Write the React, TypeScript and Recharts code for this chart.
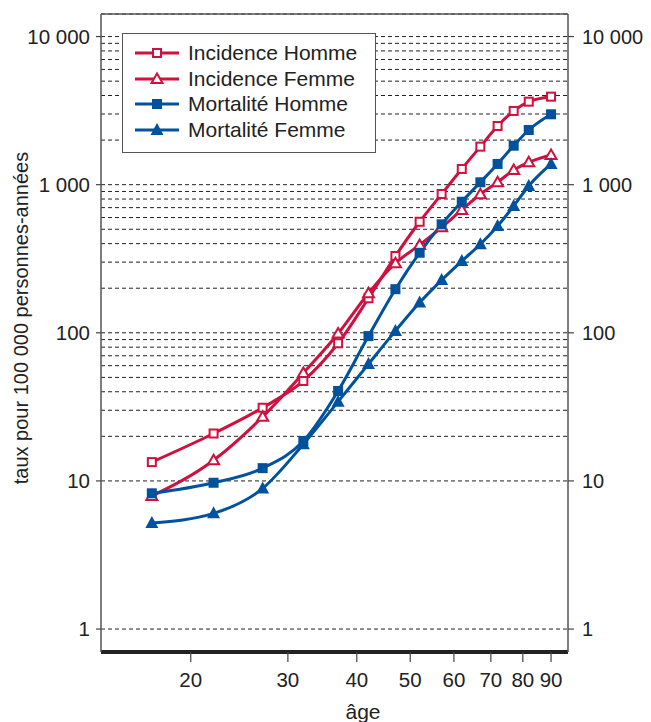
import React from 'react';
import { LineChart, Line, XAxis, YAxis, CartesianGrid, Legend, Customized, ReferenceLine } from 'recharts';

// ---- data ----
const ages = [17, 22, 27, 32, 37, 42, 47, 52, 57, 62, 67, 72, 77, 82, 90];
const incidenceHomme = [13.4, 20.9, 31.2, 47.3, 85, 171, 330, 562, 865, 1277, 1806, 2490, 3146, 3634, 3930];
const incidenceFemme = [7.9, 13.8, 27.1, 53.5, 99, 185, 295, 392, 515, 675, 861, 1038, 1257, 1416, 1587];
const mortaliteHomme = [8.25, 9.72, 12.2, 18.6, 40.5, 95, 197, 347, 540, 767, 1038, 1380, 1833, 2340, 2987];
const mortaliteFemme = [5.2, 6.04, 8.9, 17.7, 34.3, 61.5, 103, 160, 227, 305, 396, 526, 718, 980, 1380];

const seriesNames = ['Incidence Homme', 'Incidence Femme', 'Mortalité Homme', 'Mortalité Femme'];
const xTicks = [20, 30, 40, 50, 60, 70, 80, 90];
const yMajorTicks = [1, 10, 100, 1000, 10000];
const yMajorLabels = ['1', '10', '100', '1 000', '10 000'];
const yGridTicks = [1, 10, 20, 30, 40, 50, 60, 70, 80, 90, 100, 200, 300, 400, 500, 600, 700, 800, 900,
  1000, 2000, 3000, 4000, 5000, 6000, 7000, 8000, 9000, 10000];
const xDomain = [13.75, 96.6];
const yDomain = [0.7, 14200];
const xTitle = 'âge';
const yTitle = 'taux pour 100 000 personnes-années';

const rows = ages.map((a, i) => ({
  age: a,
  incH: incidenceHomme[i],
  incF: incidenceFemme[i],
  morH: mortaliteHomme[i],
  morF: mortaliteFemme[i],
}));

// ---- styles ----
const RED = '#D0103F';
const BLUE = '#00529E';
const FONT = '"Liberation Sans", Arial, Helvetica, sans-serif';
const TEXT = '#222';
const FS = 21;
const TICK_FS = 20.5;
const RIGHT_FS = 20;

type Shape = 'squareOpen' | 'triangleOpen' | 'squareFilled' | 'triangleFilled';

function Marker({ cx, cy, shape, color }: { cx: number; cy: number; shape: Shape; color: string }) {
  switch (shape) {
    case 'squareOpen':
      return <rect x={cx - 4} y={cy - 4} width={8} height={8} fill="#fff" stroke={color} strokeWidth={2} />;
    case 'squareFilled':
      return <rect x={cx - 5} y={cy - 5} width={10} height={10} fill={color} />;
    case 'triangleOpen':
      return (
        <polygon
          points={`${cx},${cy - 5.5} ${cx + 5.5},${cy + 4} ${cx - 5.5},${cy + 4}`}
          fill="#fff"
          stroke={color}
          strokeWidth={2}
          strokeLinejoin="miter"
        />
      );
    case 'triangleFilled':
    default:
      return <polygon points={`${cx},${cy - 7} ${cx + 6.5},${cy + 5} ${cx - 6.5},${cy + 5}`} fill={color} />;
  }
}

const makeDot = (shape: Shape, color: string, id: string) => (props: any) => {
  const { cx, cy, index } = props;
  if (cx == null || cy == null) return <g key={`${id}-${index}`} />;
  return (
    <g key={`${id}-${index}`}>
      <Marker cx={cx} cy={cy} shape={shape} color={color} />
    </g>
  );
};

const series: { key: string; name: string; color: string; shape: Shape }[] = [
  { key: 'incH', name: seriesNames[0], color: RED, shape: 'squareOpen' },
  { key: 'incF', name: seriesNames[1], color: RED, shape: 'triangleOpen' },
  { key: 'morH', name: seriesNames[2], color: BLUE, shape: 'squareFilled' },
  { key: 'morF', name: seriesNames[3], color: BLUE, shape: 'triangleFilled' },
];

const LeftTick = (props: any) => {
  const { x, y, payload } = props;
  const i = yMajorTicks.indexOf(payload.value);
  if (i < 0) return <g />;
  return (
    <g>
      <line x1={x + 6} x2={x + 11} y1={y} y2={y} stroke="#444" strokeWidth={1.2} />
      <text x={x} y={y} dy="0.35em" textAnchor="end" fill={TEXT} fontSize={TICK_FS} fontFamily={FONT}>
        {yMajorLabels[i]}
      </text>
    </g>
  );
};

const RightTick = (props: any) => {
  const { x, y, payload } = props;
  const i = yMajorTicks.indexOf(payload.value);
  if (i < 0) return <g />;
  return (
    <g>
      <line x1={x - 14} x2={x - 8} y1={y} y2={y} stroke="#444" strokeWidth={1.2} />
      <text x={x} y={y} dy="0.35em" textAnchor="start" fill={TEXT} fontSize={RIGHT_FS} fontFamily={FONT}>
        {yMajorLabels[i]}
      </text>
    </g>
  );
};

const BottomTick = (props: any) => {
  const { x, y, payload } = props;
  return (
    <text x={x} y={y} dy="0.71em" textAnchor="middle" fill={TEXT} fontSize={TICK_FS} fontFamily={FONT}>
      {payload.value}
    </text>
  );
};

const LegendBox = () => (
  <div
    style={{
      width: 254,
      height: 120,
      boxSizing: 'border-box',
      border: '1.5px solid #555',
      background: '#fff',
      paddingTop: 7,
    }}
  >
    {series.map((s) => (
      <div key={s.key} style={{ display: 'flex', alignItems: 'center', height: 25.6 }}>
        <svg width={65} height={20} style={{ display: 'block' }}>
          <line x1={12} x2={56} y1={10} y2={10} stroke={s.color} strokeWidth={3} />
          <Marker cx={34} cy={10} shape={s.shape} color={s.color} />
        </svg>
        <span style={{ fontFamily: FONT, fontSize: FS, color: TEXT, lineHeight: '20px', whiteSpace: 'nowrap' }}>
          {s.name}
        </span>
      </div>
    ))}
  </div>
);

const Titles = () => (
  <g>
    <text
      transform="translate(13,310) rotate(-90)"
      x={0}
      y={0}
      dy="0.35em"
      textAnchor="middle"
      fill={TEXT}
      fontSize={20}
      fontFamily={FONT}
    >
      {yTitle}
    </text>
    <text x={355} y={711} textAnchor="middle" fill={TEXT} fontSize={FS} fontFamily={FONT}>
      {xTitle}
    </text>
  </g>
);

export default function App() {
  return (
    <LineChart
      width={635}
      height={714}
      data={rows}
      margin={{ top: 6, right: 0, bottom: 0, left: 0 }}
    >
      <CartesianGrid
        xAxisId="bottom"
        yAxisId="left"
        vertical={false}
        stroke="#222"
        strokeWidth={1}
        strokeDasharray="4 3"
      />
      <XAxis
        xAxisId="bottom"
        dataKey="age"
        type="number"
        scale="log"
        domain={xDomain}
        allowDataOverflow
        ticks={xTicks}
        interval={0}
        tickSize={10}
        tickMargin={10}
        tickLine={{ stroke: '#444', strokeWidth: 1.2 }}
        axisLine={{ stroke: '#222', strokeWidth: 4 }}
        height={70}
        tick={BottomTick}
      />
      <YAxis
        yAxisId="left"
        type="number"
        scale="log"
        domain={yDomain}
        allowDataOverflow
        ticks={yGridTicks}
        interval={0}
        width={93}
        tickSize={5}
        tickMargin={6}
        tickLine={false}
        axisLine={{ stroke: '#555', strokeWidth: 1.5 }}
        tick={LeftTick}
      />
      <YAxis
        yAxisId="right"
        orientation="right"
        type="number"
        scale="log"
        domain={yDomain}
        allowDataOverflow
        ticks={yMajorTicks}
        interval={0}
        width={75}
        tickSize={6}
        tickMargin={8}
        tickLine={false}
        axisLine={{ stroke: '#555', strokeWidth: 1.5 }}
        tick={RightTick}
      />
      <ReferenceLine xAxisId="bottom" yAxisId="left" y={yDomain[1]} stroke="#555" strokeWidth={1.5} ifOverflow="extendDomain" />
      {series.map((s) => (
        <Line
          key={s.key}
          xAxisId="bottom"
          yAxisId="left"
          type="monotone"
          dataKey={s.key}
          name={s.name}
          stroke={s.color}
          strokeWidth={3}
          dot={makeDot(s.shape, s.color, s.key)}
          activeDot={false}
          isAnimationActive={false}
        />
      ))}
      <Legend
        layout="vertical"
        align="center"
        verticalAlign="middle"
        wrapperStyle={{ left: 114, top: 24.5, width: 254 }}
        content={() => <LegendBox />}
      />
      <Customized component={Titles} />
    </LineChart>
  );
}
